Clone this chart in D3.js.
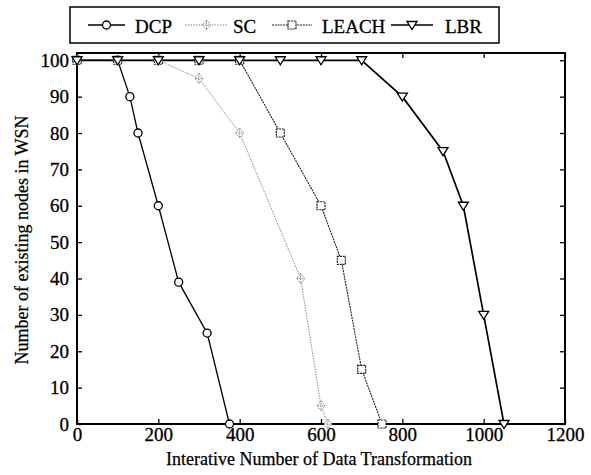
<!DOCTYPE html>
<html>
<head>
<meta charset="utf-8">
<script src="https://cdn.jsdelivr.net/npm/d3@7"></script>
<style>
  body { margin: 0; background: #fff; }
  svg { display: block; }
  text { font-family: "Liberation Serif", "Times New Roman", serif; fill: #000; }
</style>
</head>
<body>
<div id="chart"></div>
<script>
// data
var dcpX = [0, 100, 130, 150, 200, 250, 320, 375];
var dcpY = [100, 100, 90, 80, 60, 39, 25, 0];
var scX = [0, 100, 200, 300, 400, 550, 600, 617];
var scY = [100, 100, 100, 95, 80, 40, 5, 0];
var leachX = [0, 100, 200, 300, 400, 500, 600, 650, 700, 750];
var leachY = [100, 100, 100, 100, 100, 80, 60, 45, 15, 0];
var lbrX = [0, 100, 200, 300, 400, 500, 600, 700, 800, 900, 950, 1000, 1050];
var lbrY = [100, 100, 100, 100, 100, 100, 100, 100, 90, 75, 60, 30, 0];
var seriesNames = ["DCP", "SC", "LEACH", "LBR"];
var xTicks = [0, 200, 400, 600, 800, 1000, 1200];
var yTicks = [0, 10, 20, 30, 40, 50, 60, 70, 80, 90, 100];

var W = 591, H = 475;
var mLeft = 77, mRight = 565, mTop = 53, mBottom = 424;

var zip = function(xs, ys) { return xs.map(function(x, i) { return [x, ys[i]]; }); };
var series = [
  { name: seriesNames[0], pts: zip(dcpX, dcpY), color: "#000", width: 1.3, dash: null, sym: "circle", mcolor: "#000" },
  { name: seriesNames[1], pts: zip(scX, scY), color: "#8a8a8a", width: 1, dash: "1.5,1.2", sym: "diamond", mcolor: "#8a8a8a" },
  { name: seriesNames[2], pts: zip(leachX, leachY), color: "#222", width: 1.1, dash: "2,0.8", sym: "square", mcolor: "#222" },
  { name: seriesNames[3], pts: zip(lbrX, lbrY), color: "#000", width: 1.7, dash: null, sym: "triangle", mcolor: "#000" }
];

var svg = d3.select("#chart").append("svg").attr("width", W).attr("height", H);

var x = d3.scaleLinear().domain([0, 1200]).range([mLeft, mRight]);
var y = d3.scaleLinear().domain([0, 102]).range([mBottom, mTop]);

// axes, ticks pointing inward
var styleAxis = function(g) {
  g.select(".domain").remove();
  g.selectAll(".tick line").attr("stroke", "#000").attr("stroke-width", 1.3);
  g.selectAll(".tick text").style("font-size", "19px").attr("fill", "#000")
    .attr("stroke", "#000").attr("stroke-width", 0.3);
};
svg.append("g").attr("transform", "translate(0," + mBottom + ")")
  .call(d3.axisBottom(x).tickValues(xTicks).tickFormat(d3.format("d")).tickSizeInner(-5).tickSizeOuter(0).tickPadding(4))
  .call(styleAxis);
svg.append("g").attr("transform", "translate(" + mLeft + ",0)")
  .call(d3.axisLeft(y).tickValues(yTicks).tickFormat(d3.format("d")).tickSizeInner(-5).tickSizeOuter(0).tickPadding(8))
  .call(styleAxis);
svg.append("g").attr("transform", "translate(0," + mTop + ")")
  .call(d3.axisTop(x).tickValues(xTicks).tickSizeInner(-5).tickSizeOuter(0).tickFormat(""))
  .call(styleAxis);
svg.append("g").attr("transform", "translate(" + mRight + ",0)")
  .call(d3.axisRight(y).tickValues(yTicks).tickSizeInner(-5).tickSizeOuter(0).tickFormat(""))
  .call(styleAxis);

svg.append("rect").attr("x", mLeft).attr("y", mTop).attr("width", mRight - mLeft).attr("height", mBottom - mTop)
  .attr("fill", "none").attr("stroke", "#000").attr("stroke-width", 2);

// marker drawing
var drawSym = function(g, sym, color) {
  if (sym === "circle") {
    g.append("circle").attr("r", 4).attr("fill", "#fff").attr("stroke", color).attr("stroke-width", 1.3);
  } else if (sym === "diamond") {
    g.append("path").attr("d", "M0,-5L4,0L0,5L-4,0Z M-4,0L4,0 M0,-5L0,5")
      .attr("fill", "#fff").attr("stroke", color).attr("stroke-width", 1).attr("stroke-dasharray", "1.5,1");
  } else if (sym === "square") {
    g.append("rect").attr("x", -4).attr("y", -4).attr("width", 8).attr("height", 8)
      .attr("fill", "#fff").attr("stroke", color).attr("stroke-width", 1.2).attr("stroke-dasharray", "2,0.8");
  } else {
    g.append("path").attr("d", "M-5,-3.5L5,-3.5L0,4.5Z").attr("fill", "#fff").attr("stroke", color).attr("stroke-width", 1.3);
  }
};

var line = d3.line().x(function(d) { return x(d[0]); }).y(function(d) { return y(d[1]); });

series.forEach(function(s) {
  svg.append("path").datum(s.pts).attr("d", line).attr("fill", "none")
    .attr("stroke", s.color).attr("stroke-width", s.width).attr("stroke-dasharray", s.dash);
});
series.forEach(function(s) {
  s.pts.forEach(function(p) {
    var g = svg.append("g").attr("transform", "translate(" + x(p[0]) + "," + y(p[1]) + ")");
    drawSym(g, s.sym, s.mcolor);
  });
});

// axis titles
svg.append("text").attr("x", (mLeft + mRight) / 2 - 2).attr("y", 465).attr("text-anchor", "middle")
  .style("font-size", "18px").attr("stroke", "#000").attr("stroke-width", 0.25)
  .text("Interative Number of Data Transformation");
svg.append("text").attr("transform", "translate(28,240) rotate(-90)").attr("text-anchor", "middle")
  .style("font-size", "18px").attr("stroke", "#000").attr("stroke-width", 0.25)
  .text("Number of existing nodes in WSN");

// legend
var legend = svg.append("g");
legend.append("rect").attr("x", 70).attr("y", 7).attr("width", 429).attr("height", 36)
  .attr("fill", "#fff").attr("stroke", "#000").attr("stroke-width", 1.5);
var legPos = [[88, 125, 135], [185, 228, 233], [272, 312, 322], [391, 433, 445]];
series.forEach(function(s, i) {
  var p = legPos[i];
  legend.append("line").attr("x1", p[0]).attr("x2", p[1]).attr("y1", 25).attr("y2", 25)
    .attr("stroke", s.color).attr("stroke-width", s.width).attr("stroke-dasharray", s.dash);
  drawSym(legend.append("g").attr("transform", "translate(" + (p[0] + p[1]) / 2 + ",25)"), s.sym, s.mcolor);
  legend.append("text").attr("x", p[2]).attr("y", 33).style("font-size", "19px")
    .attr("stroke", "#000").attr("stroke-width", 0.3).text(s.name);
});
</script>
</body>
</html>
